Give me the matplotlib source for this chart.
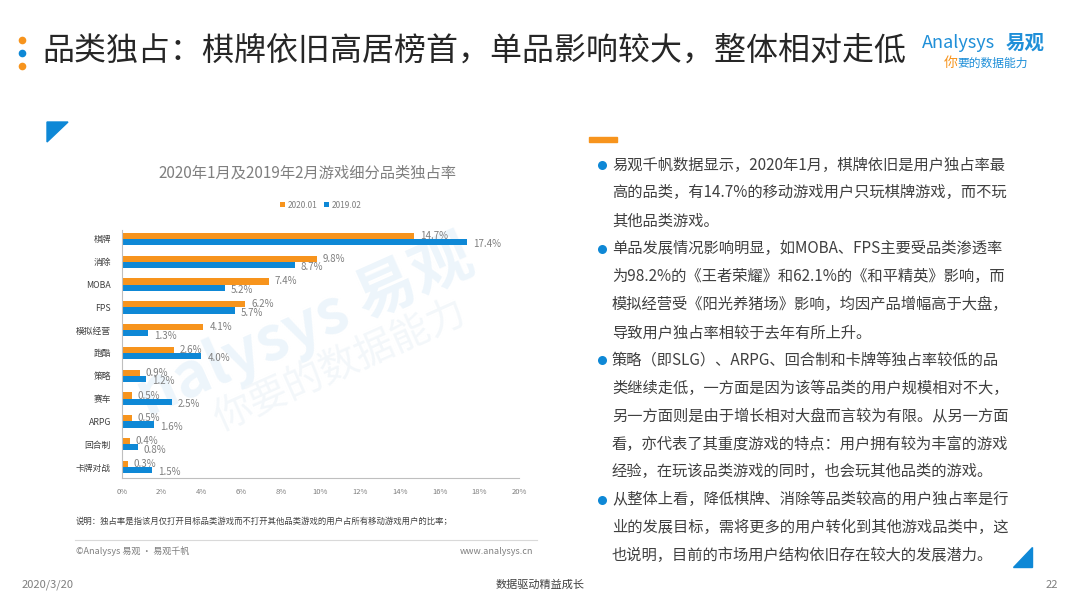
import numpy as np
import matplotlib
matplotlib.use("Agg")
from matplotlib import pyplot as plt
from matplotlib.patches import Polygon, Rectangle

plt.rcParams['font.family'] = ['Noto Sans CJK SC', 'DejaVu Sans']

# data
categories = ["棋牌", "消除", "MOBA", "FPS", "模拟经营", "跑酷", "策略", "赛车", "ARPG", "回合制", "卡牌对战"]
share_2020 = [14.7, 9.8, 7.4, 6.2, 4.1, 2.6, 0.9, 0.5, 0.5, 0.4, 0.3]
share_2019 = [17.4, 8.7, 5.2, 5.7, 1.3, 4.0, 1.2, 2.5, 1.6, 0.8, 1.5]
series_names = ["2020.01", "2019.02"]
x_ticks = [0, 2, 4, 6, 8, 10, 12, 14, 16, 18, 20]

chart_title = "2020年1月及2019年2月游戏细分品类独占率"
slide_title = "品类独占：棋牌依旧高居榜首，单品影响较大，整体相对走低"
note = "说明：独占率是指该月仅打开目标品类游戏而不打开其他品类游戏的用户占所有移动游戏用户的比率；"
bullets = [
    ["易观千帆数据显示，2020年1月，棋牌依旧是用户独占率最",
     "高的品类，有14.7%的移动游戏用户只玩棋牌游戏，而不玩",
     "其他品类游戏。"],
    ["单品发展情况影响明显，如MOBA、FPS主要受品类渗透率",
     "为98.2%的《王者荣耀》和62.1%的《和平精英》影响，而",
     "模拟经营受《阳光养猪场》影响，均因产品增幅高于大盘，",
     "导致用户独占率相较于去年有所上升。"],
    ["策略（即SLG）、ARPG、回合制和卡牌等独占率较低的品",
     "类继续走低，一方面是因为该等品类的用户规模相对不大，",
     "另一方面则是由于增长相对大盘而言较为有限。从另一方面",
     "看，亦代表了其重度游戏的特点：用户拥有较为丰富的游戏",
     "经验，在玩该品类游戏的同时，也会玩其他品类的游戏。"],
    ["从整体上看，降低棋牌、消除等品类较高的用户独占率是行",
     "业的发展目标，需将更多的用户转化到其他游戏品类中，这",
     "也说明，目前的市场用户结构依旧存在较大的发展潜力。"],
]

ORANGE = "#f7941d"
BLUE = "#0e88d6"
GRAY = "#7f7f7f"
DARK = "#404040"

W, H = 1080, 608
fig = plt.figure(figsize=(W / 100, H / 100), dpi=100)


def px(x, y):
    """pixel coords (top-left origin) -> figure fraction"""
    return x / W, 1 - y / H


def dot(x, y, size, color):
    fig.add_artist(plt.Line2D([x / W], [1 - y / H], marker="o", markersize=size,
                              color=color, markeredgewidth=0, transform=fig.transFigure))


# watermark behind the chart
fig.text(*px(305, 328), "nalysys 易观", fontsize=44, color="#edf5fb", rotation=24,
         ha="center", va="center", fontweight="bold", zorder=-5)
fig.text(*px(340, 365), "你要的数据能力", fontsize=28, color="#f3f7fa", rotation=24,
         ha="center", va="center", zorder=-5)

# --- bar chart ---
ax = fig.add_axes([122 / W, 1 - 478 / H, (519 - 122) / W, (478 - 230) / H])
ax.set_facecolor("none")
y = np.arange(len(categories))
h = 0.27
ax.barh(y - h / 2, share_2020, height=h, color=ORANGE, label=series_names[0])
ax.barh(y + h / 2, share_2019, height=h, color=BLUE, label=series_names[1])
for yi, v in zip(y, share_2020):
    ax.text(v + 0.3, yi - h / 2, f"{v}%", fontsize=7, color=GRAY, va="center")
for yi, v in zip(y, share_2019):
    ax.text(v + 0.3, yi + h / 2 + 0.1, f"{v}%", fontsize=7, color=GRAY, va="center")

ax.set_ylim(len(categories) - 1 + 0.48, -0.39)
ax.set_xlim(0, 20)
ax.set_yticks(y)
ax.set_yticklabels(categories, fontsize=6.3, color=DARK)
ax.set_xticks(x_ticks)
ax.set_xticklabels([f"{t}%" for t in x_ticks], fontsize=5.5, color=GRAY)
ax.tick_params(length=0)
ax.tick_params(axis="y", pad=8)
ax.tick_params(axis="x", pad=7)
for s in ["top", "right"]:
    ax.spines[s].set_visible(False)
for s in ["left", "bottom"]:
    ax.spines[s].set_color("#bfbfbf")
    ax.spines[s].set_linewidth(0.8)

leg = ax.legend(loc="center", bbox_to_anchor=(0.5, (478 - 205) / (478 - 230)),
                ncol=2, frameon=False, fontsize=6, handlelength=0.6, handleheight=0.6,
                handletextpad=0.3, columnspacing=0.8)
for t in leg.get_texts():
    t.set_color(GRAY)

fig.text(*px(307, 173), chart_title, fontsize=11, color=GRAY, ha="center", va="center")
fig.text(*px(76, 521), note, fontsize=6, color=DARK, ha="left", va="center")
fig.add_artist(plt.Line2D([75 / W, 537 / W], [1 - 540 / H] * 2, color="#d9d9d9", lw=0.8))
fig.text(*px(76, 551), "©Analysys 易观 · 易观千帆", fontsize=6.5, color=GRAY, ha="left", va="center")
fig.text(*px(533, 551), "www.analysys.cn", fontsize=6.5, color=GRAY, ha="right", va="center")

# --- slide decoration ---
for cy, c in zip([40, 53, 66], [ORANGE, BLUE, ORANGE]):
    dot(22, cy, 5.5, c)
fig.text(*px(42, 51), slide_title, fontsize=23, color="#262626", ha="left", va="center")

fig.text(*px(922, 43), "Analysys", fontsize=13, color="#1f8fd8", ha="left", va="center",
         style="italic")
fig.text(*px(1006, 43), "易观", fontsize=14, color="#1f8fd8", ha="left", va="center",
         fontweight="bold")
fig.text(*px(944, 63), "你", fontsize=10, color=ORANGE, ha="left", va="center", style="italic")
fig.text(*px(957, 63), "要的数据能力", fontsize=8.5, color="#1f8fd8", ha="left", va="center",
         style="italic")

fig.add_artist(Polygon([px(47, 122), px(68, 122), px(47, 142)], closed=True,
                       transform=fig.transFigure, color=BLUE))
fig.add_artist(Polygon([px(1032, 547), px(1032, 567), px(1013, 567)], closed=True,
                       transform=fig.transFigure, color=BLUE))
fig.add_artist(Rectangle(px(589, 142), 28 / W, 5 / H, transform=fig.transFigure, color=ORANGE))

# --- right text block ---
line_y = 165
for para in bullets:
    dot(602, line_y, 6.5, BLUE)
    for line in para:
        fig.text(*px(612, line_y), line, fontsize=11, color=DARK, ha="left", va="center")
        line_y += 27.9

# footer
fig.text(*px(22, 585), "2020/3/20", fontsize=8, color=GRAY, ha="left", va="center")
fig.text(*px(540, 585), "数据驱动精益成长", fontsize=8, color=DARK, ha="center", va="center")
fig.text(*px(1058, 585), "22", fontsize=8, color=GRAY, ha="right", va="center")

fig.savefig("out.png", dpi=100)
